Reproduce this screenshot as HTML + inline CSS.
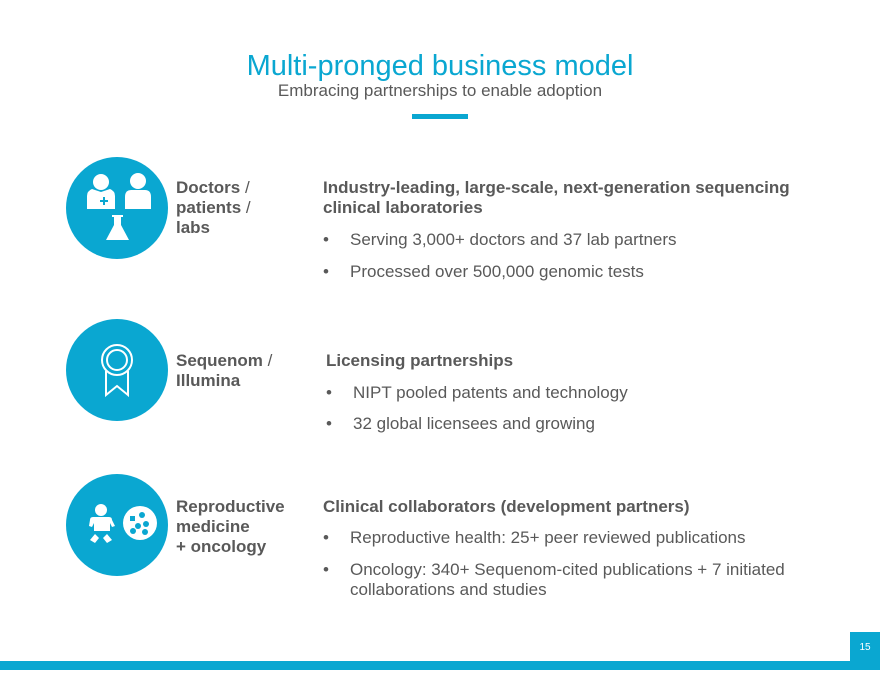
<!DOCTYPE html>
<html><head><style>
body{margin:0;width:880px;height:680px;position:relative;background:#fff;font-family:"Liberation Sans",Arial,sans-serif;overflow:hidden}
.a{position:absolute;white-space:nowrap}
.h{color:#595959;font-weight:bold;font-size:17px;line-height:20px}
.t{color:#595959;font-size:17px;line-height:20px}
.b{display:inline-block;width:27px}
.c{position:absolute;width:102px;height:102px;border-radius:50%;background:#0aa7d1;left:66px}
</style></head><body>
<div class="a" style="left:0;width:880px;text-align:center;top:50px;font-size:29px;color:#0aa7d1">Multi-pronged business model</div>
<div class="a" style="left:0;width:880px;text-align:center;top:81px;font-size:17px;color:#595959">Embracing partnerships to enable adoption</div>
<div class="a" style="left:412px;top:114px;width:56px;height:5px;background:#0aa7d1"></div>

<div class="c" style="top:157px"></div>
<div class="c" style="top:319px"></div>
<div class="c" style="top:474px"></div>
<svg class="a" style="left:0;top:0" width="880" height="680">
<g fill="#fff">
<circle cx="101" cy="182" r="8"/><path d="M87 209v-13q0-5 5-7l9 3 9-3q5 2 5 7v13z"/>
<circle cx="138" cy="181" r="8"/><path d="M125 209v-12q0-7 6-7h14q6 0 6 7v12z"/>
<path d="M112 215h11v2h-2v8l8 15h-23l8-15v-8h-2z"/>
</g>
<path d="M104 197v8M100 201h8" stroke="#0aa7d1" stroke-width="2"/>
<g fill="none" stroke="#fff" stroke-width="2">
<circle cx="117" cy="360" r="15"/><circle cx="117" cy="360" r="10"/>
<path d="M106 371v24l11-9 11 9v-24"/>
</g>
<g fill="#fff">
<circle cx="101" cy="510" r="6"/><path d="M90 520q0-3 3-3h16q3 0 3 3l3 6-3 1-2-4v8h-16v-8l-2 4-3-1z"/>
<path d="M90 540l5-6 4 4-4 5zM112 540l-5-6-4 4 4 5z"/>
<circle cx="140" cy="523" r="17"/>
</g>
<g fill="#0aa7d1"><rect x="130" y="516" width="5" height="5"/><circle cx="142" cy="515" r="3"/><circle cx="146" cy="524" r="3"/><circle cx="138" cy="526" r="3"/><circle cx="133" cy="531" r="3"/><circle cx="145" cy="532" r="3"/></g>
</svg>

<div class="a h" style="left:176px;top:178px">Doctors <span style="font-weight:normal">/</span><br>patients <span style="font-weight:normal">/</span><br>labs</div>
<div class="a h" style="left:323px;top:178px">Industry-leading, large-scale, next-generation sequencing<br>clinical laboratories</div>
<div class="a t" style="left:323px;top:230px"><span class="b">•</span>Serving 3,000+ doctors and 37 lab partners</div>
<div class="a t" style="left:323px;top:262px"><span class="b">•</span>Processed over 500,000 genomic tests</div>

<div class="a h" style="left:176px;top:351px">Sequenom <span style="font-weight:normal">/</span><br>Illumina</div>
<div class="a h" style="left:326px;top:351px">Licensing partnerships</div>
<div class="a t" style="left:326px;top:383px"><span class="b">•</span>NIPT pooled patents and technology</div>
<div class="a t" style="left:326px;top:414px"><span class="b">•</span>32 global licensees and growing</div>

<div class="a h" style="left:176px;top:497px">Reproductive<br>medicine<br>+ oncology</div>
<div class="a h" style="left:323px;top:497px">Clinical collaborators (development partners)</div>
<div class="a t" style="left:323px;top:528px"><span class="b">•</span>Reproductive health: 25+ peer reviewed publications</div>
<div class="a t" style="left:323px;top:560px"><span class="b">•</span>Oncology: 340+ Sequenom-cited publications + 7 initiated</div>
<div class="a t" style="left:350px;top:580px">collaborations and studies</div>

<div class="a" style="left:0;top:661px;width:880px;height:9px;background:#0aa7d1"></div>
<div class="a" style="left:850px;top:632px;width:30px;height:30px;background:#0aa7d1;color:#fff;font-size:10px;text-align:center;line-height:32px">15</div>
</body></html>
